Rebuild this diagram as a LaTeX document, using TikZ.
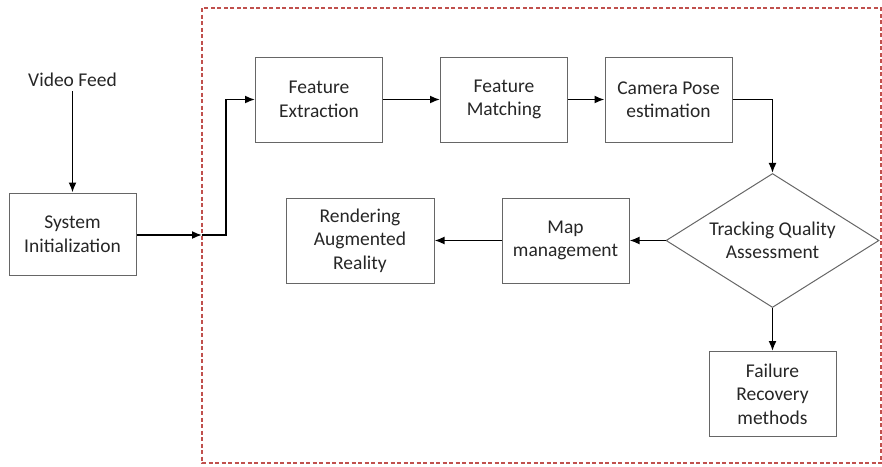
\documentclass[tikz,border=0pt]{standalone}
\usepackage{fontspec}
\setmainfont{Carlito}
\usepackage{tikz}
\usetikzlibrary{arrows.meta}
\usetikzlibrary{shapes.geometric}
\definecolor{framered}{HTML}{C0504D}

\begin{document}
\begin{tikzpicture}[->, >={Latex[length=10pt,width=8pt]}, x=1pt, y=1pt, line width=1.7pt, node distance=185pt]
    \tikzstyle{block}=[rectangle, draw=black!60, line width=1pt, text=black!85, align=center,
        minimum width=127pt, minimum height=85pt, inner sep=2pt, font=\fontsize{19.5}{23.5}\selectfont]
    \tikzstyle{decision}=[diamond, draw=black!60, line width=1pt, text=black!85, align=center,
        aspect=1.59, inner sep=0pt, minimum width=213pt, minimum height=134pt, font=\fontsize{19.5}{23.5}\selectfont]
    \useasboundingbox (0,0) rectangle (882,-466);
    % dashed tracking frame
    \draw[-, framered, line width=2pt, dash pattern=on 4pt off 2.5pt] (202,-8) rectangle (881,-463);
    \coordinate (entry) at (202,-235);
    \node[block, minimum height=82pt]   (sys) at (72.5,-234)    {System\\Initialization};
    \node[draw=none, text=black!85, font=\fontsize{19.5}{23.5}\selectfont]
                    (video)[above of=sys, node distance=154pt]  {Video Feed};
    \node[block]    (fe) at (319,-99.5)                         {Feature\\Extraction};
    \node[block]    (fm)[right of=fe]                           {Feature\\Matching};
    \node[block]    (cp)[right of=fm, node distance=164.5pt]    {Camera Pose\\estimation};
    \node[decision] (tq)[below of=cp, node distance=141pt, xshift=104pt] {Tracking Quality\\Assessment};
    \node[block]    (mm)[left of=tq, node distance=207pt]       {Map\\management};
    \node[block, minimum width=148pt]
                    (ra)[left of=mm, node distance=205.5pt]     {Rendering\\Augmented\\Reality};
    \node[block]    (fr)[below of=tq, node distance=153.5pt]    {Failure\\Recovery\\methods};
    \draw (video) -- (sys);
    \draw (sys.east |- entry) -- (entry);
    \draw (entry) -- ++(24,0) |- (fe.west);
    \draw (fe) -- (fm);
    \draw (fm) -- (cp);
    \draw (cp) -| (tq);
    \draw (tq) -- (mm);
    \draw (mm) -- (ra);
    \draw (tq) -- (fr);
\end{tikzpicture}
\end{document}
